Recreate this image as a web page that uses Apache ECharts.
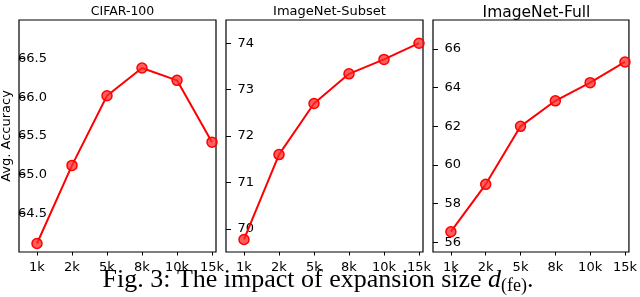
<!DOCTYPE html>
<html><head><meta charset="utf-8">
<script src="https://cdn.jsdelivr.net/npm/echarts@6/dist/echarts.min.js"></script>
<style>html,body{margin:0;padding:0;background:#fff}#c{width:640px;height:297px}</style>
</head><body><div id="c"></div>
<script>
const categories = ['1k','2k','5k','8k','10k','15k'];
const titles = ['CIFAR-100','ImageNet-Subset','ImageNet-Full'];
const cifar = [64.11, 65.12, 66.02, 66.38, 66.22, 65.42];
const subset = [69.77, 71.60, 72.70, 73.34, 73.65, 74.00];
const full = [56.55, 59.00, 62.00, 63.32, 64.26, 65.33];
const yTicks1 = [64.5, 65.0, 65.5, 66.0, 66.5];
const yTicks2 = [70, 71, 72, 73, 74];
const yTicks3 = [56, 58, 60, 62, 64, 66];
const yRanges = [[64.0, 67.0], [69.5, 74.5], [55.5, 67.5]];

const seriesData = [cifar, subset, full];
const yTicks = [yTicks1, yTicks2, yTicks3];
const yDecimals = [1, 0, 0];
const titleSizes = [12.5, 13, 15.5];
const lefts = [19, 226, 433];
const W = 197, TOP = 20, H = 232;
const F = 'DejaVu Sans';

const grids = [], xAxes = [], yAxes = [], series = [], titleArr = [];
for (let i = 0; i < 3; i++) {
  grids.push({left: lefts[i], top: TOP, width: W, height: H, show: true, borderColor: '#000', borderWidth: 1.2, backgroundColor: 'transparent'});
  xAxes.push({
    type: 'value', gridIndex: i, min: -0.514, max: 5.114,
    axisLine: {show: false, onZero: false},
    axisTick: {show: true, customValues: categories.map((_, k) => k), length: 3.5, lineStyle: {color: '#000', width: 1}},
    axisLabel: {show: true, customValues: categories.map((_, k) => k), formatter: v => categories[Math.round(v)], color: '#000', fontFamily: F, fontSize: 13, margin: 9},
    splitLine: {show: false}
  });
  yAxes.push({
    type: 'value', gridIndex: i, min: yRanges[i][0], max: yRanges[i][1],
    axisLine: {show: false, onZero: false},
    axisTick: {show: true, inside: true, customValues: yTicks[i], length: 5, lineStyle: {color: '#000', width: 1}},
    axisLabel: {show: true, customValues: yTicks[i], formatter: v => v.toFixed(yDecimals[i]), color: '#000', fontFamily: F, fontSize: 13, margin: -28, align: 'right'},
    splitLine: {show: false}
  });
  series.push({
    type: 'line', xAxisIndex: i, yAxisIndex: i,
    data: seriesData[i].map((v, k) => [k, v]),
    lineStyle: {color: '#ff0000', width: 2},
    symbol: 'circle', symbolSize: 10,
    itemStyle: {color: 'rgba(255,40,40,0.75)', borderColor: '#ff0000', borderWidth: 1.5},
    clip: false, animation: false
  });
  titleArr.push({text: titles[i], left: lefts[i] + W / 2, top: 0, textAlign: 'center',
    textStyle: {fontFamily: F, fontSize: titleSizes[i], fontWeight: 'normal', color: '#000'}});
}

const chart = echarts.init(document.getElementById('c'), null, {renderer: 'canvas'});
chart.setOption({
  animation: false,
  title: titleArr,
  grid: grids, xAxis: xAxes, yAxis: yAxes, series: series,
  graphic: [
    {type: 'text', x: 7, y: 136, rotation: Math.PI / 2,
      style: {text: 'Avg. Accuracy', font: '13px "DejaVu Sans"', fill: '#000', align: 'center', verticalAlign: 'middle'}},
    {type: 'text', x: 318, y: 280,
      style: {
        text: '{m|Fig. 3: The impact of expansion size }{d|d}{s|(fe)}{m|.}',
        align: 'center', verticalAlign: 'middle',
        rich: {
          m: {fontFamily: 'Liberation Serif', fontSize: 26, lineHeight: 30, fill: '#000', verticalAlign: 'middle'},
          d: {fontFamily: 'Liberation Serif', fontStyle: 'italic', fontSize: 26, lineHeight: 30, fill: '#000', verticalAlign: 'middle'},
          s: {fontFamily: 'Liberation Serif', fontSize: 18, lineHeight: 18, fill: '#000', verticalAlign: 'bottom'}
        }
      }}
  ]
});
</script></body></html>
